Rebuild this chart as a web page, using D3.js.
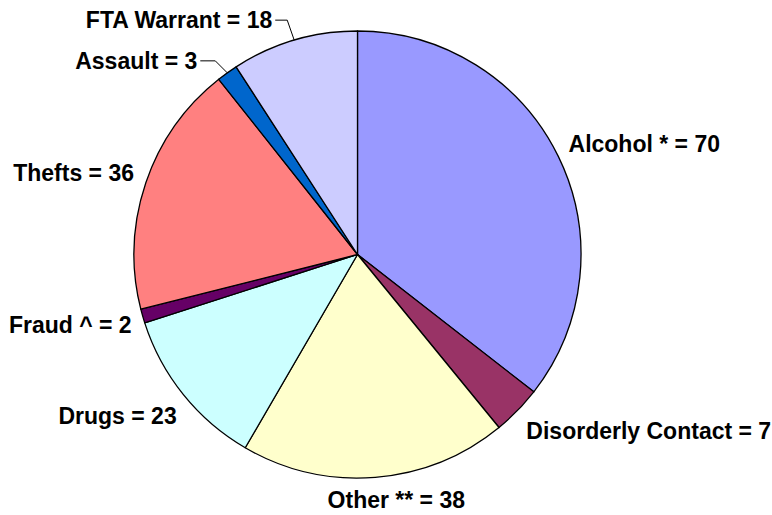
<!DOCTYPE html>
<html>
<head>
  <meta charset="utf-8">
  <script src="https://d3js.org/d3.v7.min.js"></script>
  <style>
    body { margin: 0; background: #fff; }
    svg { display: block; }
    text { font-family: "Liberation Sans", Arial, sans-serif; font-weight: bold; font-size: 23px; fill: #000; }
  </style>
</head>
<body>
  <svg id="chart" width="772" height="515"></svg>
<script>
  const categories = ["Alcohol *", "Disorderly Contact", "Other **", "Drugs", "Fraud ^", "Thefts", "Assault", "FTA Warrant"];
  const counts = [70, 7, 38, 23, 2, 36, 3, 18];
  const colors = ["#9999ff", "#993366", "#ffffcc", "#ccffff", "#660066", "#ff8080", "#0066cc", "#ccccff"];

  const width = 772, height = 515;
  const cx = 357.5, cy = 254.5, radius = 223.5;

  const svg = d3.select("#chart");
  const g = svg.append("g").attr("transform", `translate(${cx},${cy})`);

  const data = categories.map((c, i) => ({ name: c, value: counts[i], color: colors[i] }));

  const pie = d3.pie().value(d => d.value).sort(null);
  const arc = d3.arc().innerRadius(0).outerRadius(radius);
  const arcs = pie(data);

  g.selectAll("path.slice")
    .data(arcs)
    .enter().append("path")
    .attr("class", "slice")
    .attr("d", arc)
    .attr("fill", d => d.data.color)
    .attr("stroke", "#000")
    .attr("stroke-width", 1.3)
    .attr("stroke-linejoin", "round");

  // label placement: radius from the center, and a small nudge (dx, dy) per label
  const labelRadius = 236;
  const nudge = {
    "Alcohol *": [-1, -7],
    "Disorderly Contact": [0, 12],
    "Other **": [20, 0],
    "Drugs": [3, 13],
    "Fraud ^": [1, 5],
    "Thefts": [0, -6]
  };
  // slices too thin for a label beside them get a leader line
  const leader = { "Assault": [-12, -12, -15], "FTA Warrant": [-7, -20, -12] };

  arcs.forEach(d => {
    const a = (d.startAngle + d.endAngle) / 2;
    const name = d.data.name;
    const txt = `${name} = ${d.data.value}`;
    if (leader[name]) {
      const [ex, ey, hx] = leader[name];
      const px = Math.sin(a) * radius, py = -Math.cos(a) * radius;
      const elbow = [px + ex, py + ey];
      const end = [elbow[0] + hx, elbow[1]];
      g.append("path")
        .attr("d", d3.line()([[px, py], elbow, end]))
        .attr("fill", "none")
        .attr("stroke", "#000")
        .attr("stroke-width", 1);
      g.append("text")
        .attr("x", end[0] - 3)
        .attr("y", end[1])
        .attr("dy", "0.35em")
        .attr("text-anchor", "end")
        .text(txt);
      return;
    }
    const [nx, ny] = nudge[name] || [0, 0];
    const s = Math.sin(a);
    let x = s * labelRadius, y = -Math.cos(a) * labelRadius;
    let anchor = s > 0.3 ? "start" : (s < -0.3 ? "end" : "middle");
    if (anchor === "middle") y = -Math.cos(a) * (labelRadius + 10);
    g.append("text")
      .attr("x", x + nx)
      .attr("y", y + ny)
      .attr("dy", "0.35em")
      .attr("text-anchor", anchor)
      .text(txt);
  });
</script>
</body>
</html>
